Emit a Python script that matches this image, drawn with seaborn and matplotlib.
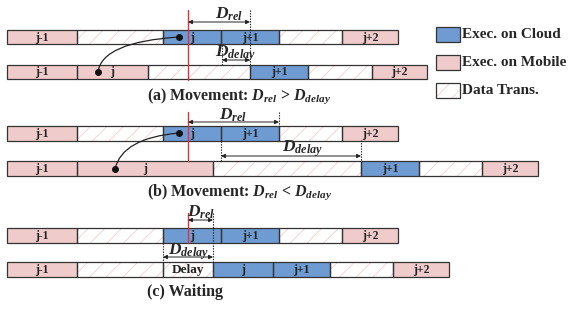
import matplotlib
matplotlib.use("Agg")
import matplotlib.pyplot as plt
import seaborn as sns
from matplotlib.path import Path
from matplotlib.patches import PathPatch, Rectangle

# ---------------- data ----------------
T0 = 7  # timeline origin (px units)

top_labels = ["j-1", "", "j", "j+1", "", "j+2"]
top_kinds = ["mobile", "trans", "cloud", "cloud", "trans", "mobile"]
top_durations = [70, 86, 58, 58, 63, 56]

a_bot_labels = ["j-1", "j", "", "j+1", "", "j+2"]
a_bot_kinds = ["mobile", "mobile", "trans", "cloud", "trans", "mobile"]
a_bot_durations = [70, 71, 102, 58, 64, 55]

b_bot_labels = ["j-1", "j", "", "j+1", "", "j+2"]
b_bot_kinds = ["mobile", "mobile", "trans", "cloud", "trans", "mobile"]
b_bot_durations = [70, 136, 148, 58, 63, 56]

c_bot_labels = ["j-1", "", "Delay", "j", "j+1", "", "j+2"]
c_bot_kinds = ["mobile", "trans", "trans", "cloud", "cloud", "trans", "mobile"]
c_bot_durations = [70, 86, 50, 60, 57, 63, 56]

legend_labels = ["Exec. on Cloud", "Exec. on Mobile", "Data Trans."]
legend_kinds = ["cloud", "mobile", "trans"]

panel_titles = [r"(a) Movement: $D_{rel}$ > $D_{delay}$",
                r"(b) Movement: $D_{rel}$ < $D_{delay}$",
                "(c) Waiting"]

# ---------------- style ----------------
sns.set_theme(style="white")
plt.rcParams["font.family"] = ["Liberation Serif", "DejaVu Serif"]
plt.rcParams["font.weight"] = "bold"
plt.rcParams["mathtext.fontset"] = "custom"
plt.rcParams["mathtext.rm"] = "Liberation Serif:bold"
plt.rcParams["mathtext.it"] = "Liberation Serif:bold:italic"
plt.rcParams["hatch.linewidth"] = 0.5

COLORS = {"cloud": "#6e9bd2", "mobile": "#efcccb", "trans": "#ffffff"}
EDGE = "#333333"
HATCH_C = "#f3c6c6"
RED = "#e0303a"

fig = plt.figure(figsize=(5.7, 3.09), dpi=100)
ax = fig.add_axes([0, 0, 1, 1])
ax.set_xlim(0, 570)
ax.set_ylim(309, 0)
ax.axis("off")

ROW_H = 14.5


def draw_row(yc, labels, kinds, durations, fs=8.5):
    left = T0
    for lab, kind, d in zip(labels, kinds, durations):
        if kind == "trans":
            ax.barh(yc, d, left=left, height=ROW_H, color="white",
                    edgecolor=HATCH_C, hatch="//", linewidth=0, zorder=2)
        else:
            ax.barh(yc, d, left=left, height=ROW_H, color=COLORS[kind],
                    linewidth=0, zorder=2)
        ax.barh(yc, d, left=left, height=ROW_H, fill=False,
                edgecolor=EDGE, linewidth=0.9, zorder=3)
        if lab:
            ax.text(left + d / 2, yc + 0.5, lab, ha="center", va="center",
                    fontsize=fs if lab != "Delay" else 9.5, fontweight="bold",
                    color="#222222", zorder=4)
        left += d


def dim_arrow(x0, x1, y):
    ax.annotate("", xy=(x1, y), xytext=(x0, y),
                arrowprops=dict(arrowstyle="<|-|>", color="#222222", lw=0.7,
                                mutation_scale=6, shrinkA=0, shrinkB=0),
                zorder=6)


def vdot(x, y0, y1):
    ax.plot([x, x], [y0, y1], ls=(0, (1.2, 1.2)), color="#222222", lw=0.8, zorder=5)


def vred(x, y0, y1):
    ax.plot([x, x], [y0, y1], color=RED, lw=1.0, zorder=5)


def curve(p0, c, p1):
    path = Path([p0, c, p1], [Path.MOVETO, Path.CURVE3, Path.CURVE3])
    ax.add_patch(PathPatch(path, fill=False, color="#222222", lw=0.9, zorder=6))
    ax.plot([p0[0], p1[0]], [p0[1], p1[1]], "o", color="#111111", ms=4, zorder=7)


DFS = 12.5

# ---- panel (a) ----
draw_row(37, top_labels, top_kinds, top_durations)
draw_row(72, a_bot_labels, a_bot_kinds, a_bot_durations)
vred(188, 10, 80)
vdot(250, 10, 65)
vdot(222, 45, 65)
dim_arrow(188, 250, 22)
dim_arrow(222, 250, 60)
ax.text(229, 14, r"$D_{rel}$", ha="center", va="center", fontsize=DFS, zorder=8)
ax.text(236, 53.5, r"$D_{delay}$", ha="center", va="center", fontsize=DFS, zorder=8)
curve((98, 72), (102, 42), (179, 37))
ax.text(147, 96, panel_titles[0], ha="left", va="center", fontsize=11.5)

# ---- panel (b) ----
draw_row(133.5, top_labels, top_kinds, top_durations)
draw_row(168.5, b_bot_labels, b_bot_kinds, b_bot_durations)
vred(188, 112, 161)
vdot(279, 112, 126)
vdot(221, 141, 161)
vdot(361, 140, 161)
dim_arrow(188, 279, 122)
dim_arrow(221, 361, 156)
ax.text(233, 115, r"$D_{rel}$", ha="center", va="center", fontsize=DFS, zorder=8)
ax.text(303, 149, r"$D_{delay}$", ha="center", va="center", fontsize=DFS, zorder=8)
curve((115, 169), (122, 138), (179, 133))
ax.text(147, 192, panel_titles[1], ha="left", va="center", fontsize=11.5)

# ---- panel (c) ----
draw_row(235.5, top_labels, top_kinds, top_durations)
draw_row(269.5, c_bot_labels, c_bot_kinds, c_bot_durations)
vred(188, 213, 243)
vdot(213, 213, 262)
vdot(163, 243, 262)
dim_arrow(188, 213, 220)
dim_arrow(163, 213, 257)
ax.text(201, 212, r"$D_{rel}$", ha="center", va="center", fontsize=DFS, zorder=8)
ax.text(189, 251.5, r"$D_{delay}$", ha="center", va="center", fontsize=DFS, zorder=8)
ax.text(147, 292, panel_titles[2], ha="left", va="center", fontsize=11.5)

# ---- legend ----
for i, (lab, kind) in enumerate(zip(legend_labels, legend_kinds)):
    y = 27 + i * 28
    if kind == "trans":
        ax.add_patch(Rectangle((436, y), 24, 15, facecolor="white",
                               edgecolor=HATCH_C, hatch="//", lw=0, zorder=2))
    else:
        ax.add_patch(Rectangle((436, y), 24, 15, facecolor=COLORS[kind],
                               lw=0, zorder=2))
    ax.add_patch(Rectangle((436, y), 24, 15, fill=False, edgecolor=EDGE,
                           lw=0.9, zorder=3))
    ax.text(462, y + 7.5, lab, ha="left", va="center", fontsize=11,
            fontweight="bold")

fig.savefig("out.png", dpi=100)
